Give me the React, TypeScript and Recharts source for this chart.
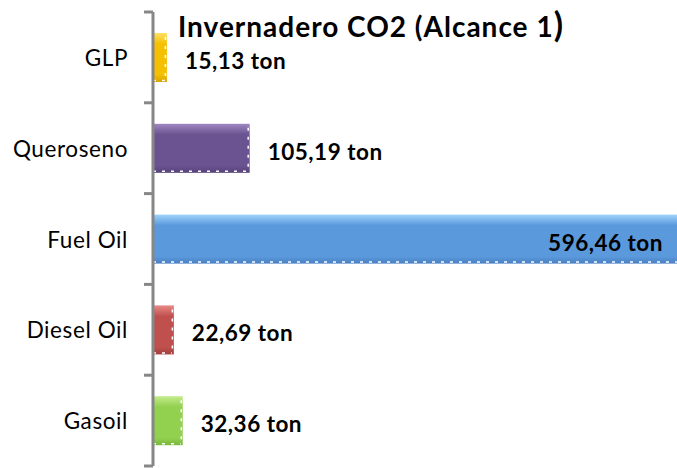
import { Bar, BarChart, Cell, LabelList, XAxis, YAxis } from 'recharts';

const categories = ['GLP', 'Queroseno', 'Fuel Oil', 'Diesel Oil', 'Gasoil'];
const emissions = [15.13, 105.19, 596.46, 22.69, 32.36];
const unit = 'ton';

const data = categories.map((name, i) => ({ name, value: emissions[i] }));

// top highlight, body, bottom shade
const palette = [
  ['#FFE066', '#F5C000', '#D9A400'],
  ['#9F87C2', '#6B5391', '#57427A'],
  ['#9FD3FA', '#5B99DD', '#4A80C2'],
  ['#E88A87', '#C0504D', '#A13F3C'],
  ['#C4EC8C', '#92D050', '#7AB83C'],
];

const W = 677;
const H = 468;
const MARGIN = { top: 12, right: 0, bottom: 2, left: 0 };
const AXIS_X = 153;
const BAND = (H - MARGIN.top - MARGIN.bottom) / categories.length;
const FONT = 'Lato, "Open Sans", sans-serif';

const fmt = (v: number) => `${v.toFixed(2).replace('.', ',')} ${unit}`;

function CategoryTick(props: any) {
  const { y, payload, index } = props;
  const last = index === categories.length - 1;
  return (
    <g>
      <text
        x={128}
        y={y}
        textAnchor="end"
        dominantBaseline="central"
        fontFamily={FONT}
        fontSize={22.5}
        letterSpacing={0.6}
        fill="#000"
      >
        {payload.value}
      </text>
      <line x1={AXIS_X - 9} x2={AXIS_X} y1={y - BAND / 2} y2={y - BAND / 2} stroke="#878787" strokeWidth={3} />
      {last && (
        <line x1={AXIS_X - 9} x2={AXIS_X} y1={y + BAND / 2} y2={y + BAND / 2} stroke="#878787" strokeWidth={3} />
      )}
    </g>
  );
}

function BevelBar(props: any) {
  const { x, y, width, height, fill } = props;
  if (!width || !height) return null;
  return (
    <g>
      <rect x={x} y={y} width={width} height={height} fill={fill} />
      <line
        x1={x}
        x2={x + width - 2}
        y1={y + height - 1.5}
        y2={y + height - 1.5}
        stroke="#fff"
        strokeWidth={1.5}
        strokeDasharray="3 6"
      />
      <line
        x1={x + width - 1.5}
        x2={x + width - 1.5}
        y1={y + 4}
        y2={y + height}
        stroke="#fff"
        strokeWidth={1.5}
        strokeDasharray="3 6"
      />
    </g>
  );
}

function ValueLabel(props: any) {
  const { x, y, width, height, value } = props;
  const plotRight = W - MARGIN.right;
  const end = x + width;
  const inside = end > plotRight;
  return (
    <text
      x={inside ? plotRight - 14 : end + 18}
      y={y + height / 2 + 3}
      textAnchor={inside ? 'end' : 'start'}
      dominantBaseline="central"
      fontFamily={FONT}
      fontWeight="bold"
      fontSize={22.5}
      letterSpacing={0.5}
      fill="#000"
    >
      {fmt(value)}
    </text>
  );
}

export default function App() {
  return (
    <div style={{ position: 'absolute', left: 0, top: 0, width: W, height: H, overflow: 'hidden', background: '#fff' }}>
      <BarChart width={W} height={H} data={data} layout="vertical" margin={MARGIN}>
        <defs>
          {palette.map((c, i) => (
            <linearGradient key={i} id={`grad${i}`} x1="0" y1="0" x2="0" y2="1">
              <stop offset="0%" stopColor={c[0]} />
              <stop offset="22%" stopColor={c[1]} />
              <stop offset="85%" stopColor={c[1]} />
              <stop offset="100%" stopColor={c[2]} />
            </linearGradient>
          ))}
        </defs>
        <XAxis type="number" hide domain={[0, 570]} allowDataOverflow />
        <YAxis
          type="category"
          dataKey="name"
          width={AXIS_X}
          axisLine={{ stroke: '#878787', strokeWidth: 3 }}
          tickLine={false}
          tick={<CategoryTick />}
          interval={0}
        />
        <Bar dataKey="value" barSize={49} isAnimationActive={false} shape={<BevelBar />}>
          {data.map((d, i) => (
            <Cell key={d.name} fill={`url(#grad${i})`} />
          ))}
          <LabelList dataKey="value" content={<ValueLabel />} />
        </Bar>
      </BarChart>
      <svg width={W} height={60} style={{ position: 'absolute', left: 0, top: 0 }}>
        <text x={178} y={37} fontFamily={FONT} fontWeight="bold" fontSize={28} letterSpacing={1} fill="#000">
          Invernadero CO2 (Alcance 1<tspan fontSize={34}>)</tspan>
        </text>
      </svg>
    </div>
  );
}
